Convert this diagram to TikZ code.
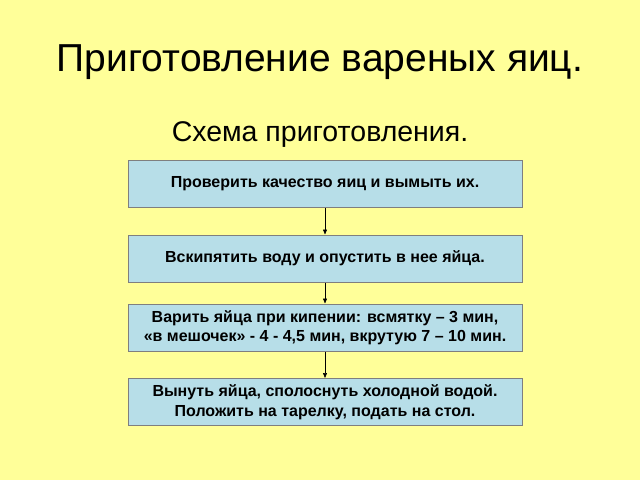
\documentclass[tikz,border=0pt]{standalone}
\usepackage{fontspec}
\setmainfont{Liberation Sans}
\usetikzlibrary{arrows.meta}
\definecolor{bg}{HTML}{FFFF99}
\definecolor{boxf}{HTML}{B7DEE8}
\definecolor{boxd}{HTML}{7F7F7F}
\tikzset{
  stepbox/.style={draw=boxd,fill=boxf,line width=1pt,minimum width=394pt,minimum height=47pt,
    align=center,font=\fontsize{16}{19.5}\selectfont\bfseries,inner sep=2pt},
  conn/.style={-{Triangle[length=5pt,width=4pt]},line width=0.6pt,black}
}
\begin{document}
\begin{tikzpicture}[x=1pt,y=-1pt]
\fill[bg] (0,0) rectangle (640,480);
\useasboundingbox (0,0) rectangle (640,480);
\node (title) at (320,62) {\fontsize{39}{44}\selectfont Приготовление вареных яиц.};
\node (sub) at (320,135) {\fontsize{28.5}{32}\selectfont Схема приготовления.};
\node[stepbox] (b1) at (325,184) {Проверить качество яиц и вымыть их.};
\node[stepbox] (b2) at (325,258.5) {Вскипятить воду и опустить в нее яйца.};
\node[stepbox] (b3) at (325,327.5) {Варить яйца при кипении: всмятку – 3 мин,\\«в мешочек» - 4 - 4,5 мин, вкрутую 7 – 10 мин.};
\node[stepbox] (b4) at (325,402) {Вынуть яйца, сполоснуть холодной водой.\\Положить на тарелку, подать на стол.};
\draw[conn] (b1) -- (b2);
\draw[conn] (b2) -- (b3);
\draw[conn] (b3) -- (b4);
\end{tikzpicture}
\end{document}
